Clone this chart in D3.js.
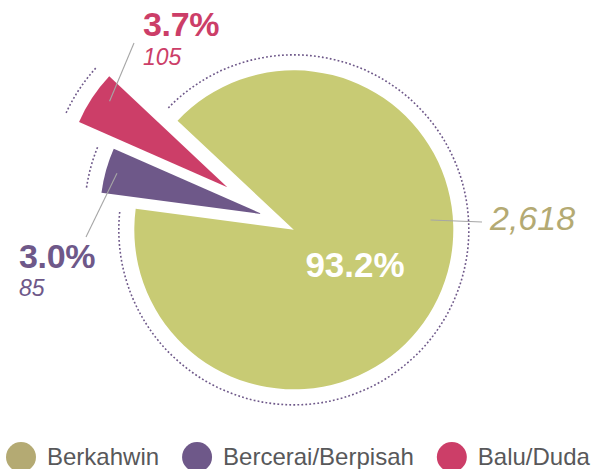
<!DOCTYPE html>
<html>
<head>
<meta charset="utf-8">
<script src="https://cdn.jsdelivr.net/npm/d3@7"></script>
<style>
  html, body { margin: 0; padding: 0; background: #fff; }
  svg { display: block; font-family: "Liberation Sans", Arial, Helvetica, sans-serif; }
</style>
</head>
<body>
<svg id="chart" width="595" height="469"></svg>
<script>
// ---- data ----
const categories = ["Berkahwin", "Bercerai/Berpisah", "Balu/Duda"];
const counts = [2618, 85, 105];
const countLabels = ["2,618", "85", "105"];

// ---- styling / layout ----
const sliceColors  = ["#c8cb74", "#6e5889", "#cc3e68"];
const legendColors = ["#b4aa73", "#6e5889", "#cc3e68"];
const labelColors  = ["#ffffff", "#6e5889", "#cc3e68"];
const countColors  = ["#b4aa73", "#6e5889", "#cc3e68"];
const outerR = [159.5, 162, 162];
const explodeDist = [2, 33.5, 77];
const explodeTilt = [0, 10.9, -0.6];      // degrees, relative to slice bisector
const leaderT = [0.409, 0.5, 0.636];      // fraction along slice angle
const leaderR = [0.86, 0.93, 0.9];        // fraction of radius
const center = {x: 292, y: 229};
const rad = d => d * Math.PI / 180;

const svg = d3.select("#chart");
const g = svg.append("g").attr("transform", `translate(${center.x},${center.y})`);

const total = d3.sum(counts);
const pctFmt = d3.format(".1%");
// emphasised angular weight (small groups enlarged, as in the original design)
const angleWeight = d3.scalePow().exponent(0.875).domain([0, d3.max(counts)]).range([0, 1]);

const pie = d3.pie()
  .sort(null)
  .value((d, i) => angleWeight(counts[i]))
  .startAngle(rad(-46.8))
  .endAngle(rad(-46.8 + 360));

const arcs = pie(categories);

arcs.forEach((a, i) => {
  const mid = (a.startAngle + a.endAngle) / 2;
  const off = d3.pointRadial(mid + rad(explodeTilt[i]), explodeDist[i]);
  const sg = g.append("g").attr("transform", `translate(${off[0]},${off[1]})`);
  a.off = off;

  sg.append("path")
    .attr("d", d3.arc().innerRadius(0).outerRadius(outerR[i])(a))
    .attr("fill", sliceColors[i]);

  // dotted outer ring
  const p = d3.path();
  const rr = outerR[i] + 15.5;
  const trim = rad(1);
  p.arc(0, 0, rr, a.startAngle + trim - Math.PI / 2, a.endAngle - trim - Math.PI / 2);
  sg.append("path")
    .attr("d", p.toString())
    .attr("fill", "none")
    .attr("stroke", "#6e5889")
    .attr("stroke-width", 1.6)
    .attr("stroke-dasharray", "1.8 2.2");
});

// ---- labels ----
const labelPos = [
  null,
  {x: 19, y: 268, cy: 296, lx: 86, ly: 237},
  {x: 143, y: 36, cy: 65, lx: 134, ly: 43}
];

arcs.forEach((a, i) => {
  const ang = a.startAngle + (a.endAngle - a.startAngle) * leaderT[i];
  const s = d3.pointRadial(ang, outerR[i] * leaderR[i]);
  const sx = center.x + a.off[0] + s[0], sy = center.y + a.off[1] + s[1];
  const pct = pctFmt(counts[i] / total);

  if (i === 0) {
    const mid = (a.startAngle + a.endAngle) / 2;
    const c = d3.pointRadial(mid, 72);
    svg.append("text")
      .attr("x", center.x + c[0] - 2)
      .attr("y", center.y + c[1] + 17)
      .attr("text-anchor", "middle")
      .attr("font-size", 35)
      .attr("font-weight", "bold")
      .attr("fill", labelColors[i])
      .text(pct);
    svg.append("line")
      .attr("x1", sx).attr("y1", sy).attr("x2", 482).attr("y2", 222)
      .attr("stroke", "#a6a6a6").attr("stroke-width", 1.1);
    svg.append("text")
      .attr("x", 490).attr("y", 230)
      .attr("font-size", 34)
      .attr("font-style", "italic")
      .attr("fill", countColors[i])
      .text(countLabels[i]);
  } else {
    const lp = labelPos[i];
    svg.append("line")
      .attr("x1", sx).attr("y1", sy).attr("x2", lp.lx).attr("y2", lp.ly)
      .attr("stroke", "#a6a6a6").attr("stroke-width", 1.1);
    svg.append("text")
      .attr("x", lp.x).attr("y", lp.y)
      .attr("font-size", 34)
      .attr("font-weight", "bold")
      .attr("letter-spacing", "-0.3")
      .attr("fill", labelColors[i])
      .text(pct);
    svg.append("text")
      .attr("x", lp.x).attr("y", lp.cy)
      .attr("font-size", 23)
      .attr("font-style", "italic")
      .attr("fill", countColors[i])
      .text(countLabels[i]);
  }
});

// ---- legend ----
const legend = svg.append("g").attr("transform", "translate(6,457)");
let xCursor = 0;
categories.forEach((c, i) => {
  const item = legend.append("g").attr("transform", `translate(${xCursor},0)`);
  item.append("circle").attr("cx", 15).attr("cy", 0).attr("r", 15).attr("fill", legendColors[i]);
  const t = item.append("text")
    .attr("x", 41).attr("y", 8)
    .attr("font-size", 24)
    .attr("fill", "#58585a")
    .text(c);
  const w = t.node().getComputedTextLength();
  xCursor += 41 + w + 23;
});
</script>
</body>
</html>
